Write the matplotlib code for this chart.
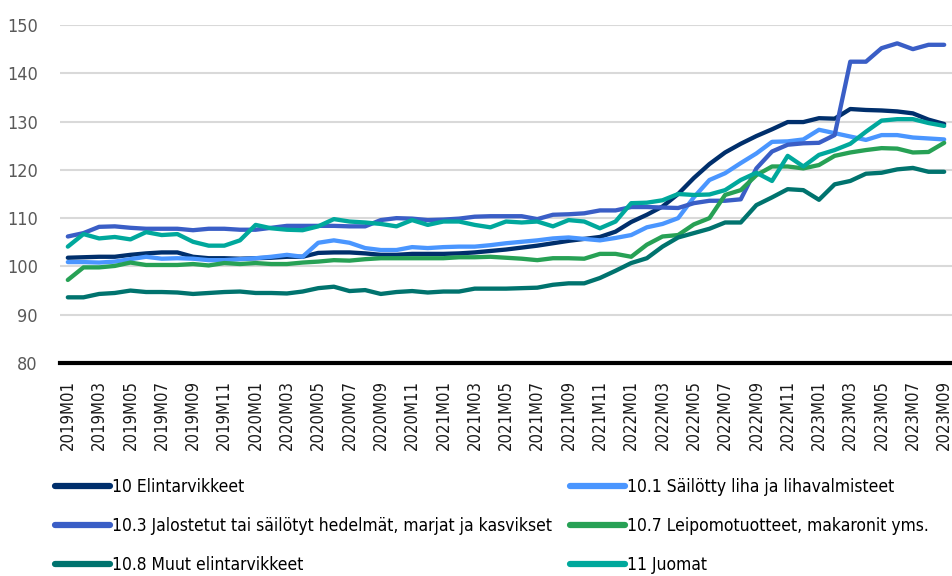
"""Tuottajahintaindeksit, elintarvikkeet ja juomat 2019M01-2023M09."""

import matplotlib
matplotlib.use("Agg")
import matplotlib.pyplot as plt

plt.rcParams["font.family"] = ["DejaVu Sans"]
plt.rcParams["font.stretch"] = "condensed"

months = [f"{y}M{m:02d}" for y in range(2019, 2024) for m in range(1, 13)][:57]

elintarvikkeet = [
    101.8, 101.9, 102.0, 102.0, 102.4, 102.7, 102.9, 102.9, 102.0, 101.7, 101.7, 101.6,
    101.7, 101.8, 102.0, 102.0, 102.8, 102.9, 102.9, 102.7, 102.4, 102.4, 102.6, 102.6,
    102.6, 102.7, 102.9, 103.2, 103.5, 103.9, 104.3, 104.8, 105.3, 105.7, 106.1, 107.2,
    109.2, 110.7, 112.4, 115.0, 118.3, 121.2, 123.6, 125.4, 127.0, 128.4, 129.9, 129.9,
    130.7, 130.6, 132.6, 132.4, 132.3, 132.1, 131.7, 130.4, 129.5,
]
liha = [
    100.9, 100.9, 100.8, 101.0, 101.5, 102.0, 101.6, 101.7, 101.6, 101.3, 101.3, 101.5,
    101.7, 102.0, 102.4, 102.0, 104.9, 105.4, 104.9, 103.8, 103.4, 103.4, 104.0, 103.8,
    104.0, 104.1, 104.1, 104.4, 104.8, 105.1, 105.4, 105.8, 106.0, 105.7, 105.4, 105.9,
    106.5, 108.1, 108.8, 110.0, 114.3, 117.9, 119.3, 121.4, 123.4, 125.8, 125.9, 126.3,
    128.3, 127.6, 126.9, 126.2, 127.2, 127.2, 126.7, 126.5, 126.3,
]
hedelmat = [
    106.2, 106.9, 108.2, 108.3, 108.0, 107.8, 107.8, 107.8, 107.5, 107.8, 107.8, 107.6,
    107.6, 108.0, 108.4, 108.4, 108.4, 108.4, 108.3, 108.3, 109.6, 110.0, 109.9, 109.6,
    109.7, 109.9, 110.3, 110.4, 110.4, 110.4, 109.8, 110.7, 110.8, 111.0, 111.6, 111.6,
    112.3, 112.3, 112.2, 112.1, 113.1, 113.6, 113.6, 113.9, 120.3, 123.8, 125.2, 125.5,
    125.6, 127.2, 142.4, 142.4, 145.2, 146.2, 145.0, 145.9, 145.9,
]
leipomo = [
    97.2, 99.8, 99.8, 100.1, 100.8, 100.3, 100.3, 100.3, 100.5, 100.2, 100.7, 100.5,
    100.7, 100.5, 100.5, 100.8, 101.0, 101.3, 101.2, 101.5, 101.7, 101.7, 101.7, 101.7,
    101.7, 101.9, 101.9, 102.0, 101.8, 101.6, 101.3, 101.7, 101.7, 101.6, 102.6, 102.6,
    102.0, 104.5, 106.2, 106.5, 108.7, 110.0, 114.8, 115.8, 118.9, 120.7, 120.7, 120.3,
    121.0, 122.9, 123.6, 124.1, 124.5, 124.4, 123.6, 123.7, 125.6,
]
muut = [
    93.6, 93.6, 94.3, 94.5, 95.0, 94.7, 94.7, 94.6, 94.3, 94.5, 94.7, 94.8,
    94.5, 94.5, 94.4, 94.8, 95.5, 95.8, 94.9, 95.1, 94.3, 94.7, 94.9, 94.6,
    94.8, 94.8, 95.4, 95.4, 95.4, 95.5, 95.6, 96.2, 96.5, 96.5, 97.6, 99.1,
    100.7, 101.7, 104.1, 106.0, 106.9, 107.8, 109.1, 109.1, 112.7, 114.3, 116.0, 115.8,
    113.8, 117.0, 117.7, 119.2, 119.4, 120.1, 120.4, 119.6, 119.6,
]
juomat = [
    104.1, 106.7, 105.8, 106.1, 105.6, 107.1, 106.5, 106.7, 105.1, 104.3, 104.3, 105.4,
    108.6, 107.9, 107.6, 107.5, 108.3, 109.8, 109.3, 109.1, 108.8, 108.3, 109.6, 108.6,
    109.3, 109.3, 108.6, 108.1, 109.3, 109.1, 109.3, 108.3, 109.6, 109.3, 107.9, 109.3,
    113.1, 113.2, 113.7, 115.0, 114.8, 114.9, 115.8, 117.9, 119.4, 117.7, 122.9, 120.7,
    123.1, 124.1, 125.4, 127.9, 130.2, 130.5, 130.5, 129.7, 129.1,
]

series = [
    ("10 Elintarvikkeet", elintarvikkeet, "#002f6c"),
    ("10.1 Säilötty liha ja lihavalmisteet", liha, "#4a96ff"),
    ("10.3 Jalostetut tai säilötyt hedelmät, marjat ja kasvikset", hedelmat, "#3a5ec6"),
    ("10.7 Leipomotuotteet, makaronit yms.", leipomo, "#27a155"),
    ("10.8 Muut elintarvikkeet", muut, "#00736e"),
    ("11 Juomat", juomat, "#00a89c"),
]

fig = plt.figure(figsize=(9.52, 5.76), dpi=100)
ax = fig.add_axes([60 / 952, 1 - 363 / 576, 1 - 60 / 952, (363 - 25) / 576])

lines = {}
for label, vals, color in series:
    ln, = ax.plot(range(len(vals)), vals, color=color, lw=3.1,
                  solid_joinstyle="round", solid_capstyle="round", label=label)
    lines[label] = ln

ax.set_xlim(-0.5, len(months) - 0.5)
ax.set_ylim(80, 150)
ax.set_yticks(range(80, 151, 10))
ax.yaxis.grid(True, color="#d9d9d9", lw=1.5)
ax.set_axisbelow(True)
ax.set_xticks(range(0, len(months), 2))
ax.set_xticklabels(months[::2], rotation=90, fontsize=12, color="#1a1a1a")
ax.tick_params(axis="x", length=0, pad=12)
ax.tick_params(axis="y", length=0, pad=16, labelsize=13, labelcolor="#595959")
for s in ["top", "right", "left"]:
    ax.spines[s].set_visible(False)
ax.spines["bottom"].set_linewidth(3)
ax.spines["bottom"].set_color("black")

names = [s[0] for s in series]
leg_kw = dict(frameon=False, fontsize=12.5, handlelength=3.15, handletextpad=0.12,
              labelspacing=1.22, borderpad=0, borderaxespad=0, loc="upper left")
left = [names[0], names[2], names[4]]
right = [names[1], names[3], names[5]]
leg1 = fig.legend([lines[n] for n in left], left, bbox_to_anchor=(55 / 952, 1 - 478 / 576), **leg_kw)
leg2 = fig.legend([lines[n] for n in right], right, bbox_to_anchor=(570 / 952, 1 - 478 / 576), **leg_kw)
for leg in (leg1, leg2):
    for h in leg.legend_handles:
        h.set_linewidth(4.5)
        h.set_solid_capstyle("round")

fig.savefig("out.png", dpi=100)
plt.close()
